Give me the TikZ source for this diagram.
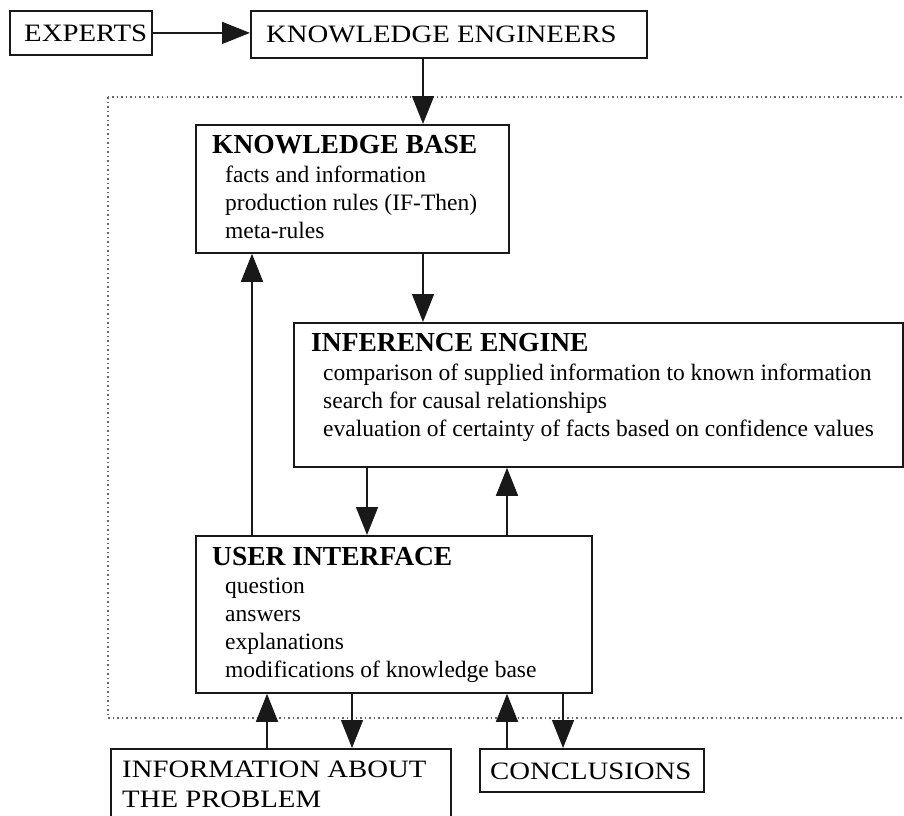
\documentclass[tikz,border=0pt]{standalone}
\usepackage{fontspec}
\setmainfont{Liberation Serif}
\newfontfamily\capsfont{Liberation Serif}[FakeStretch=1.15]
\usetikzlibrary{arrows.meta}
\begin{document}
\begin{tikzpicture}[x=1pt,y=-1pt,
  box/.style={draw=black!90, line width=1.8pt, rectangle, inner sep=0pt, anchor=north west},
  conn/.style={draw=black!90, line width=1.5pt, -{Triangle[length=28pt,width=22pt]}},
  border/.style={draw=black!60, line width=1.5pt, dash pattern=on 1.5pt off 3pt},
  capsT/.style={anchor=base west, inner sep=0pt, font=\capsfont\fontsize{25}{30}\selectfont},
  headT/.style={anchor=base west, inner sep=0pt, font=\fontsize{27.5}{30}\selectfont\bfseries},
  bodyT/.style={anchor=base west, inner sep=0pt, font=\fontsize{23.5}{28}\selectfont},
]
\useasboundingbox (0,0) rectangle (904,815);

% system boundary
\draw[border] (108,97) rectangle (930,718);

% boxes
\node[box, minimum width=142pt, minimum height=44pt] (experts) at (9,10) {};
\node[box, minimum width=396pt, minimum height=47pt] (ke) at (250,10) {};
\node[box, minimum width=313pt, minimum height=128pt] (kb) at (195,124) {};
\node[box, minimum width=609pt, minimum height=144pt] (ie) at (293,322) {};
\node[box, minimum width=396pt, minimum height=157pt] (ui) at (195,535) {};
\node[box, minimum width=340pt, minimum height=80pt] (info) at (110,748) {};
\node[box, minimum width=224pt, minimum height=43pt] (concl) at (479,748) {};

% labels
\node[capsT] (expertsT) at (24,41) {EXPERTS};
\node[capsT] (keT) at (266,42) {KNOWLEDGE ENGINEERS};

\node[headT] (kbH) at (212,153) {KNOWLEDGE BASE};
\node[bodyT] (kb1) at (225,182) {facts and information};
\node[bodyT] (kb2) at (225,210) {production rules (IF-Then)};
\node[bodyT] (kb3) at (225,238) {meta-rules};

\node[headT] (ieH) at (311,351) {INFERENCE ENGINE};
\node[bodyT] (ie1) at (323,380) {comparison of supplied information to known information};
\node[bodyT] (ie2) at (323,408) {search for causal relationships};
\node[bodyT] (ie3) at (323,436) {evaluation of certainty of facts based on confidence values};

\node[headT] (uiH) at (212,565) {USER INTERFACE};
\node[bodyT] (ui1) at (225,593) {question};
\node[bodyT] (ui2) at (225,621) {answers};
\node[bodyT] (ui3) at (225,649) {explanations};
\node[bodyT] (ui4) at (225,677) {modifications of knowledge base};

\node[capsT] (info1) at (122,777) {INFORMATION ABOUT};
\node[capsT] (info2) at (122,807) {THE PROBLEM};
\node[capsT] (conclT) at (490,779) {CONCLUSIONS};

% connectors
\draw[conn] (experts.east) -- (experts.east -| ke.west);
\draw[conn] ([xshift=173pt]ke.south west) -- ([xshift=228pt]kb.north west);
\draw[conn] ([xshift=228pt]kb.south west) -- ([xshift=130pt]ie.north west);
\draw[conn] ([xshift=74pt]ie.south west) -- ([xshift=172pt]ui.north west);
\draw[conn] ([xshift=57pt]ui.north west) -- ([xshift=57pt]kb.south west);
\draw[conn] ([xshift=312pt]ui.north west) -- ([xshift=214pt]ie.south west);
\draw[conn] ([xshift=157pt]info.north west) -- ([xshift=72pt]ui.south west);
\draw[conn] ([xshift=157pt]ui.south west) -- ([xshift=242pt]info.north west);
\draw[conn] ([xshift=28pt]concl.north west) -- ([xshift=312pt]ui.south west);
\draw[conn] ([xshift=368pt]ui.south west) -- ([xshift=84pt]concl.north west);
\end{tikzpicture}
\end{document}
